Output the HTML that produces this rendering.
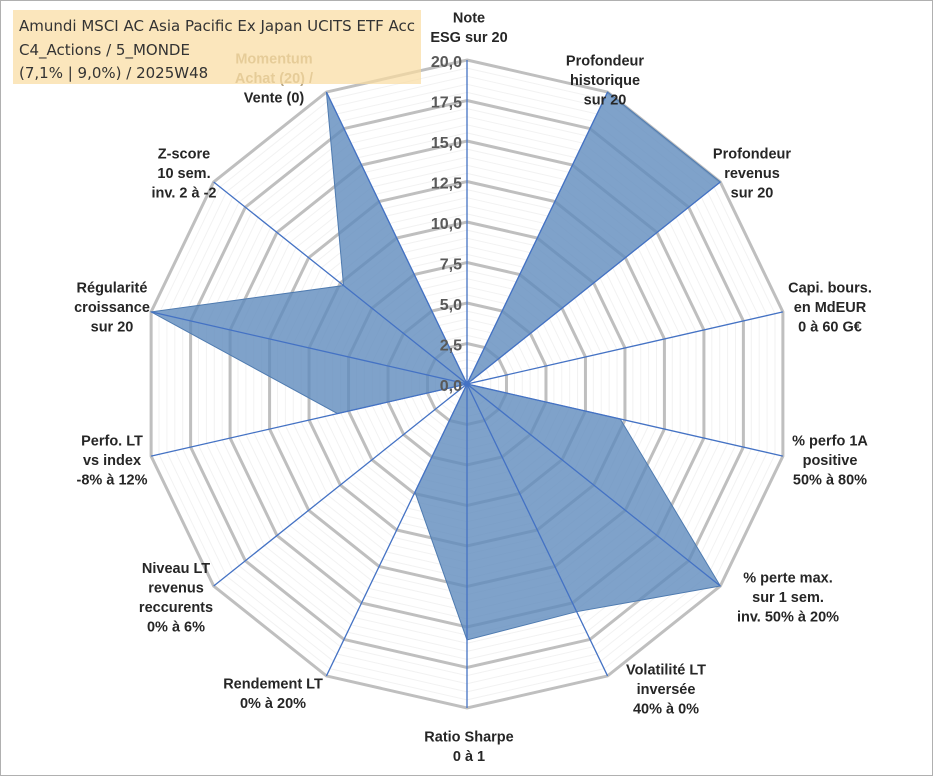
<!DOCTYPE html>
<html><head><meta charset="utf-8"><style>
body{margin:0;background:#fff;}
svg{display:block;font-family:"Liberation Sans",Arial,sans-serif;}
</style></head><body>
<svg id="chart" width="933" height="776" viewBox="0 0 933 776" xmlns="http://www.w3.org/2000/svg">
<rect x="0.5" y="0.5" width="932" height="775" fill="#fff" stroke="#b0b0b0"/>
<g id="grid"></g>
<g id="series"></g>
<g id="axes"></g>
<g id="ticks"></g>
<g id="labels"></g>
<rect x="13" y="10" width="408" height="74" fill="#f9dca0" fill-opacity="0.7"/>
<text x="19" y="31" font-size="15" fill="#333" font-family="'DejaVu Sans',sans-serif" textLength="396">Amundi MSCI AC Asia Pacific Ex Japan UCITS ETF Acc</text>
<text x="19" y="55" font-size="15" fill="#333" font-family="'DejaVu Sans',sans-serif">C4_Actions / 5_MONDE</text>
<text x="19" y="78" font-size="15" fill="#333" font-family="'DejaVu Sans',sans-serif">(7,1% | 9,0%) / 2025W48</text>
</svg>
<script>
const categories=[["Note","ESG sur 20"],["Profondeur","historique","sur 20"],["Profondeur","revenus","sur 20"],["Capi. bours.","en MdEUR","0 à 60 G€"],["% perfo 1A","positive","50% à 80%"],["% perte max.","sur 1 sem.","inv. 50% à 20%"],["Volatilité LT","inversée","40% à 0%"],["Ratio Sharpe","0 à 1"],["Rendement LT","0% à 20%"],["Niveau LT","revenus","reccurents","0% à 6%"],["Perfo. LT","vs index","-8% à 12%"],["Régularité","croissance","sur 20"],["Z-score","10 sem.","inv. 2 à -2"],["Momentum","Achat (20) /","Vente (0)"]];
const values=[0,20,20,0,9.7,20,15.6,15.8,7.4,0,8.2,20,9.75,20];
const tickLabels=["0,0","2,5","5,0","7,5","10,0","12,5","15,0","17,5","20,0"];
const tickValues=[0,2.5,5,7.5,10,12.5,15,17.5,20];
const maxV=20;
const cx=467,cy=384,R=324,NS="http://www.w3.org/2000/svg";
const N=categories.length;
function ang(i){return i*2*Math.PI/N;}
function pt(i,v){const r=v/maxV*R;return [cx+r*Math.sin(ang(i)),cy-r*Math.cos(ang(i))];}
function mk(tag,attrs,parent){const e=document.createElementNS(NS,tag);for(const k in attrs)e.setAttribute(k,attrs[k]);document.getElementById(parent).appendChild(e);return e;}
for(let v=0.5;v<=maxV;v+=0.5){
 const major=Math.abs(v/2.5-Math.round(v/2.5))<1e-6;
 const p=[];for(let i=0;i<N;i++)p.push(pt(i,v).join(","));
 const e=mk("polygon",{points:p.join(" "),fill:"none",stroke:major?"#bfbfbf":"#f2f2f2","stroke-width":major?3:1},"grid");
 
 
}
{const p=values.map((v,i)=>pt(i,v).join(","));
const e=mk("polygon",{points:p.join(" "),fill:"#5f8bbd","fill-opacity":"0.8",stroke:"#4f7bb0","stroke-width":1},"series");

}
for(let i=0;i<N;i++){const [x,y]=pt(i,maxV);
const e=mk("line",{x1:cx,y1:cy,x2:x,y2:y,stroke:"#4472c4","stroke-width":1.3},"axes");

}
tickValues.forEach((v,k)=>{const [x,y]=pt(0,v);
const t=mk("text",{x:x-5,y:y+7,"text-anchor":"end","font-size":16,"font-weight":"bold",fill:"#595959"},"ticks");
t.textContent=tickLabels[k];

});
const lh=19.5;
const pos=[[469,27],[605,80],[752,173],[830,307],[830,460],[788,597],[666,689],[469,746],[273,693],[176,597],[112,460],[112,307],[184,173],[274,78]];
categories.forEach((lines,i)=>{
 const [tx,ty]=pos[i];
 const g=mk("text",{x:tx,"text-anchor":"middle","font-size":14.5,"font-weight":"bold",fill:"#262626"},"labels");
 
 
 const y0=ty-(lines.length-1)*lh/2+5;
 lines.forEach((l,j)=>{const ts=document.createElementNS(NS,"tspan");ts.setAttribute("x",tx);ts.setAttribute("y",y0+j*lh);ts.textContent=l;
 if(i===13&&j<2)ts.setAttribute("fill","#b8a888");
 g.appendChild(ts);});
});
</script>
</body></html>
